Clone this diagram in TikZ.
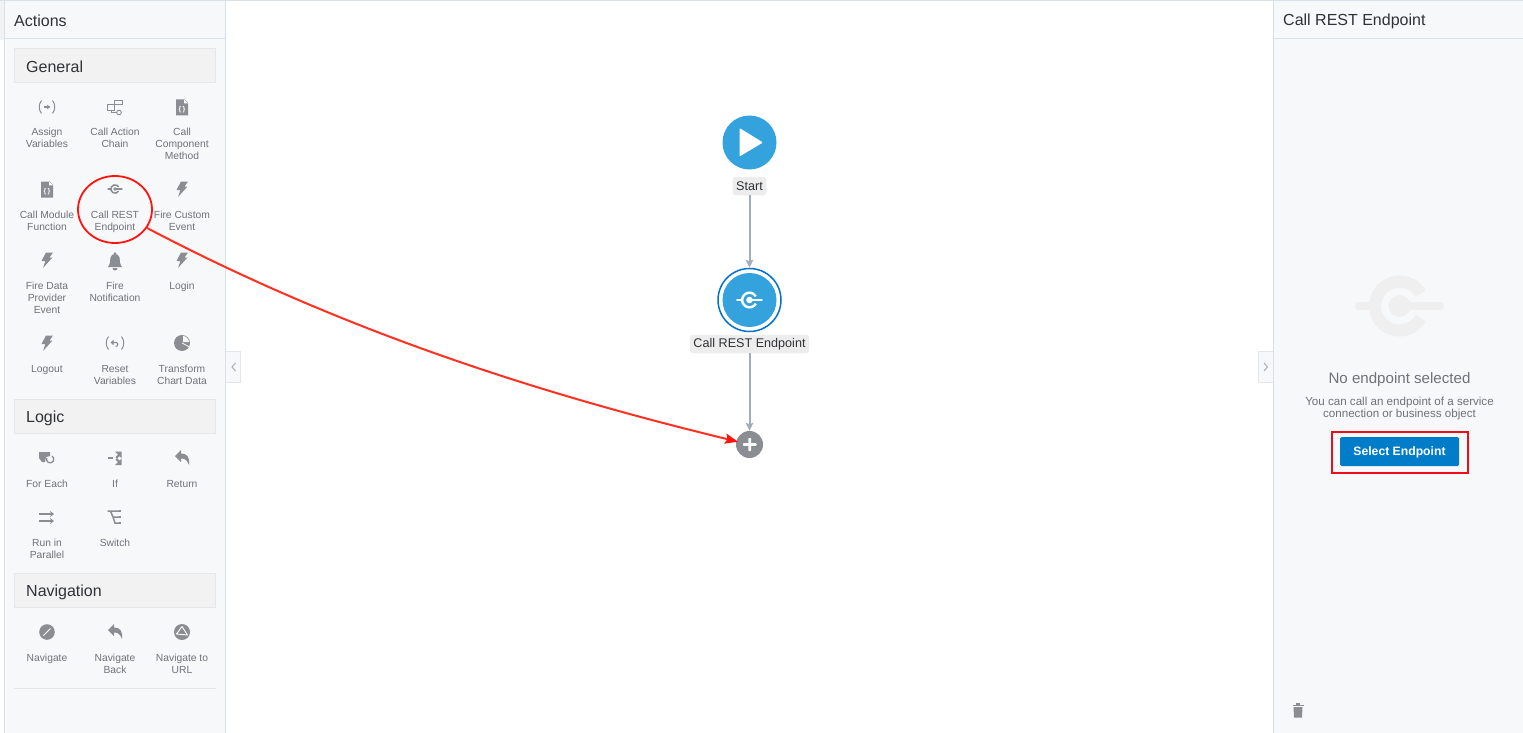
\documentclass[tikz,border=0pt]{standalone}
\usepackage{fontspec}
\setmainfont{Liberation Sans}
\usetikzlibrary{arrows.meta,shapes.geometric}
\definecolor{panel}{HTML}{F7F8FA}
\definecolor{edge}{HTML}{D8E1EA}
\definecolor{secfill}{HTML}{F2F2F2}
\definecolor{secedge}{HTML}{E4E6E8}
\definecolor{ink}{HTML}{2F3236}
\definecolor{lab}{HTML}{6E7279}
\definecolor{ico}{HTML}{8A8D91}
\definecolor{flow}{HTML}{34A2DC}
\definecolor{ringc}{HTML}{0572CE}
\definecolor{conn}{HTML}{A0ADBA}
\definecolor{pill}{HTML}{EDEDED}
\definecolor{btn}{HTML}{007CC8}
\definecolor{wm}{HTML}{EFEFEF}
\definecolor{redm}{HTML}{F00C18}
\definecolor{reda}{HTML}{FF3020}
\definecolor{redh}{HTML}{FF1410}
\tikzset{
  lbl/.style={anchor=north,inner sep=0pt,align=center,text=lab,font=\fontsize{10.3}{12}\selectfont},
  sectitle/.style={anchor=west,inner sep=0pt,text=ink,font=\fontsize{16}{18}\selectfont},
  sectbox/.style={draw=secedge,fill=secfill,line width=.8pt},
  pilllbl/.style={fill=pill,rounded corners=3pt,inner xsep=3.5pt,inner ysep=0pt,minimum height=18.5pt,text=ink,font=\fontsize{12.6}{14}\selectfont},
  connline/.style={draw=conn,line width=2pt,-{Stealth[length=8pt,width=7.5pt,inset=1.5pt]}},
  icoline/.style={draw=ico,line width=1.2pt},
}
\newcommand{\resticon}[6]{% x y scale colour ringwidth stubwidth
  \begin{scope}[shift={(#1,#2)},scale=#3]
    \draw[#4,line width=#5pt] (30:24.5) arc (30:330:24.5);
    \draw[#4,line width=#6pt,line cap=round] (-41,0) -- (-24.5,0);
    \draw[#4,line width=#6pt,line cap=round] (0,0) -- (41,0);
    \fill[#4] (0,0) circle (11);
  \end{scope}}
\newcommand{\docicon}[2]{\begin{scope}[shift={(#1,#2)}]
    \fill[ico] (-6,-8) -- (2.5,-8) -- (6,-4.5) -- (6,8) -- (-6,8) -- cycle;
    \fill[white] (2.2,-8) -- (2.2,-4.2) -- (6,-4.2) -- cycle;
    \node[inner sep=0pt,text=white,font=\bfseries\fontsize{7}{7}\selectfont] at (0,2.5) {\{\,\}};
  \end{scope}}
\newcommand{\bolticon}[2]{\begin{scope}[shift={(#1,#2)}]
    \fill[ico] (-1,-7.5) -- (6,-7.5) -- (2.6,-2.5) -- (5.5,-2.5) -- (-4,8) -- (-1.6,1) -- (-5.5,1) -- cycle;
  \end{scope}}
\newcommand{\backicon}[2]{\begin{scope}[shift={(#1,#2)}]
    \fill[ico] (-7,-2) -- (-1,-8) -- (-1,-4.5) .. controls (5,-4.5) and (8,-1) .. (7,7) .. controls (5,2) and (3,0.5) .. (-1,0.5) -- (-1,4) -- cycle;
  \end{scope}}
\begin{document}
\begin{tikzpicture}[x=1pt,y=-1pt]
\useasboundingbox (0,0) rectangle (1523,733);
\fill[white] (0,0) rectangle (1523,733);
% panels
\fill[panel] (5,0) rectangle (225.5,733);
\fill[panel] (1274,0) rectangle (1523,733);
\fill[secfill] (0,0) rectangle (4,40);
\draw[edge,line width=1pt] (0,.5) -- (1523,.5);
\draw[edge,line width=1pt] (4.5,0) -- (4.5,733);
\draw[edge,line width=1pt] (225.5,0) -- (225.5,733);
\draw[edge,line width=1pt] (1273.5,0) -- (1273.5,733);
\draw[edge,line width=1pt] (5,38.5) -- (225,38.5);
\draw[edge,line width=1pt] (1274,38.5) -- (1523,38.5);
\node[sectitle] (actionstitle) at (14,21) {Actions};
\node[sectitle] (resttitle) at (1283,21) {Call REST Endpoint};
% section bars
\draw[sectbox] (14.5,48.5) rectangle (215.5,82.5);
\draw[sectbox] (14.5,399.5) rectangle (215.5,433.5);
\draw[sectbox] (14.5,573.5) rectangle (215.5,607.5);
\draw[secedge,line width=1pt] (14,688.5) -- (216,688.5);
\node[sectitle] (general) at (26,66.5) {General};
\node[sectitle] (logic) at (26,418) {Logic};
\node[sectitle] (navigation) at (26,592) {Navigation};
% collapse tabs
\draw[secedge,fill=panel,line width=.8pt] (226,351.5) -- (240.5,351.5) -- (240.5,382.5) -- (226,382.5);
\draw[ico!70,line width=1pt] (235.5,363) -- (232,367) -- (235.5,371);
\draw[secedge,fill=panel,line width=.8pt] (1273,351.5) -- (1258.5,351.5) -- (1258.5,382.5) -- (1273,382.5);
\draw[ico!70,line width=1pt] (1264,363) -- (1267.5,367) -- (1264,371);
% action labels
\node[lbl] (l1) at (47,128) {Assign\\Variables};
\node[lbl] (l2) at (115,128) {Call Action\\Chain};
\node[lbl] (l3) at (182,128) {Call\\Component\\Method};
\node[lbl] (l4) at (47,211) {Call Module\\Function};
\node[lbl] (l5) at (115,211) {Call REST\\Endpoint};
\node[lbl] (l6) at (182,211) {Fire Custom\\Event};
\node[lbl] (l7) at (47,282) {Fire Data\\Provider\\Event};
\node[lbl] (l8) at (115,282) {Fire\\Notification};
\node[lbl] (l9) at (182,282) {Login};
\node[lbl] (l10) at (47,365) {Logout};
\node[lbl] (l11) at (115,365) {Reset\\Variables};
\node[lbl] (l12) at (182,365) {Transform\\Chart Data};
\node[lbl] (l13) at (47,480) {For Each};
\node[lbl] (l14) at (115,480) {If};
\node[lbl] (l15) at (182,480) {Return};
\node[lbl] (l16) at (47,539) {Run in\\Parallel};
\node[lbl] (l17) at (115,539) {Switch};
\node[lbl] (l18) at (47,654) {Navigate};
\node[lbl] (l19) at (115,654) {Navigate\\Back};
\node[lbl] (l20) at (182,654) {Navigate to\\URL};
% icons
% assign
\draw[icoline,line width=1pt] (41.5,100.5) .. controls (38.5,104) and (38.5,110) .. (41.5,113.5);
\draw[icoline,line width=1pt] (52.5,100.5) .. controls (55.5,104) and (55.5,110) .. (52.5,113.5);
\draw[ico,line width=1.2pt,-{Stealth[length=3.5pt,width=4.5pt]}] (43.5,107) -- (50.5,107);
% chain
\draw[ico,line width=.9pt] (107.5,104) rectangle (114,110);
\draw[ico,line width=.9pt] (114.5,100.5) rectangle (122,104.5);
\draw[ico,line width=.9pt] (111,110) -- (111,112.5) -- (116.5,112.5);
\draw[ico,line width=.9pt] (119,112.5) circle (2.3);
\docicon{182}{107.5}
\docicon{47}{189.5}
\resticon{115}{189}{.17}{ico}{1.5}{1.3}
\bolticon{182}{189}
\bolticon{47}{260}
% bell
\fill[ico] (108,267) .. controls (110.5,264) and (110,260) .. (110.5,257.5) .. controls (111,255) and (113,254) .. (115,254) .. controls (117,254) and (119,255) .. (119.5,257.5) .. controls (120,260) and (119.5,264) .. (122,267) -- cycle;
\fill[ico] (115,253.5) circle (1.3);
\fill[ico] (112.5,268) arc (180:0:2.5) -- cycle;
\bolticon{182}{260}
\bolticon{47}{343}
% reset
\draw[icoline,line width=1pt] (108.5,336.5) .. controls (105.5,340) and (105.5,346) .. (108.5,349.5);
\draw[icoline,line width=1pt] (121.5,336.5) .. controls (124.5,340) and (124.5,346) .. (121.5,349.5);
\draw[ico,line width=1.1pt] (111.5,342.5) -- (116,342.5) .. controls (118.5,342.5) and (118.5,346.5) .. (115.5,346.5);
\fill[ico] (110.5,342.5) -- (113.5,339.8) -- (113.5,345.2) -- cycle;
% pie
\fill[ico] (182,343) circle (8);
\fill[panel] (183,336) -- (183,342) -- (189,342) .. controls (189,339) and (186,336) .. (183,336) -- cycle;
\draw[panel,line width=.8pt] (182,343) -- (189.5,347);
% for each
\fill[ico] (39,452) -- (50,452) -- (50,456) -- (46,457) -- (45,462) -- (42,462) -- (39,458) -- cycle;
\draw[ico,line width=1.3pt] (52,456) arc (-60:200:3.7);
% if
\draw[ico,line width=1.5pt] (107.5,458) -- (113,458);
\fill[ico] (115,451.5) -- (121.5,451.5) -- (121.5,458) -- (119.5,456) -- (117,458.5) -- (115.5,457) -- (118,454.5) -- cycle;
\fill[ico] (115,465) -- (121.5,465) -- (121.5,458.5) -- (119.5,460.5) -- (117,458) -- (115.5,459.5) -- (118,462) -- cycle;
\backicon{182}{458}
% parallel
\draw[ico,line width=1.5pt,-{Stealth[length=4pt,width=6pt]}] (39,514) -- (54,514);
\draw[ico,line width=1.5pt,-{Stealth[length=4pt,width=6pt]}] (39,521) -- (54,521);
% switch
\draw[ico,line width=1.5pt] (107.5,511) -- (120,511) (110.5,511) -- (113,517) -- (120,517) (113,517) -- (115,523) -- (120,523);
\draw[ico,line width=1.5pt] (120,510) -- (120,512) (120,516) -- (120,518) (120,522) -- (120,524);
% navigate
\fill[ico] (47,632) circle (7.8);
\draw[white,line width=1pt] (43.5,635.5) -- (50.5,628.5);
\backicon{115}{632}
% url
\fill[ico] (182,632) circle (8);
\draw[white,line width=.9pt,line join=round] (182,626.5) -- (187.5,635) -- (176.5,634) -- cycle;
% flow
\node[circle,fill=flow,minimum size=54pt,inner sep=0pt] (startnode) at (749.5,142.5) {};
\fill[white,rounded corners=1pt] (739.5,128) -- (763,142.5) -- (739.5,156.5) -- cycle;
\node[pilllbl] (startlbl) at (749.5,186) {Start};
\node[circle,draw=ringc,line width=1.5pt,minimum size=63pt,inner sep=0pt] (callring) at (749.5,300) {};
\node[circle,fill=flow,minimum size=54pt,inner sep=0pt] (callnode) at (749.5,300) {};
\resticon{749.5}{300}{.3}{white}{2.4}{2}
\node[pilllbl] (calllbl) at (749.5,344) {Call REST Endpoint};
\node[circle,fill=ico,minimum size=27pt,inner sep=0pt] (plusnode) at (749.5,444.5) {};
\fill[white,rounded corners=.6pt] (743,443.2) rectangle (756.5,445.8) (748.4,438) rectangle (751,451);
\draw[connline] (startlbl) -- (callring);
\draw[connline] (calllbl) -- (plusnode);
% right panel
\resticon{1399.5}{306}{1}{wm}{12}{7.5}
\node[anchor=center,inner sep=0pt,text=lab,font=\fontsize{15.1}{17}\selectfont] (noend) at (1399.5,379.5) {No endpoint selected};
\node[lbl,font=\fontsize{11.6}{12}\selectfont] (hint) at (1399.5,396.5) {You can call an endpoint of a service\\connection or business object};
\node[rounded corners=1.5pt,fill=btn,text=white,inner sep=0pt,minimum width=119pt,minimum height=29pt,text height=9.5pt,text depth=1.1pt,font=\bfseries\fontsize{12.2}{14}\selectfont] (selectbtn) at (1399.5,451.5) {Select Endpoint};
\node[draw=redm,line width=1.8pt,minimum width=136pt,minimum height=41pt,inner sep=0pt] (selectmark) at (1400,452.5) {};
% trash
\fill[ico] (1293.5,707) -- (1302.5,707) -- (1302,717.5) -- (1294,717.5) -- cycle;
\fill[ico] (1292.5,704.5) rectangle (1303.5,706);
\fill[ico] (1296,703.3) rectangle (1300,705);
% red mark
\node[ellipse,draw=redh,line width=1.8pt,minimum width=74pt,minimum height=67pt,inner sep=0pt] (circmark) at (115,209.5) {};
\draw[reda,line width=2pt,-{Stealth[length=13pt,width=10pt,inset=2pt,color=redh]},shorten >=-2pt] (circmark.-30) .. controls (345,332) and (541,394) .. (plusnode);
\end{tikzpicture}
\end{document}
